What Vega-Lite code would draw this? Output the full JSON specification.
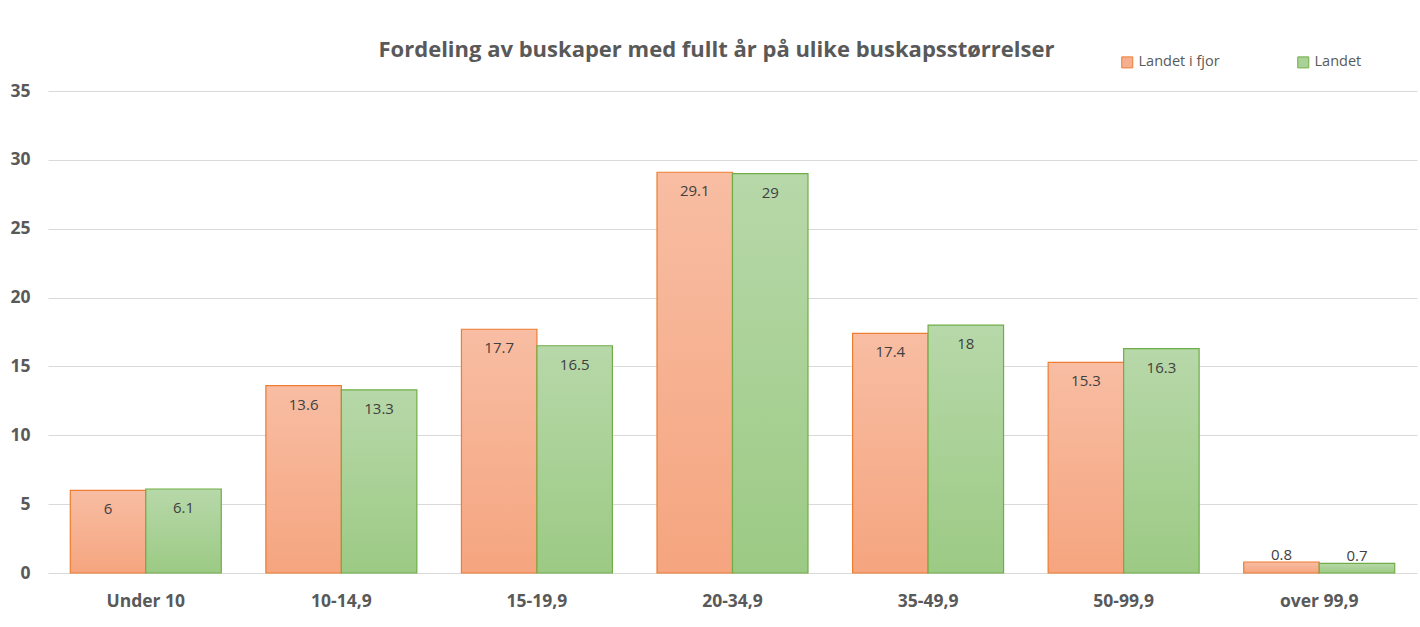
{
  "$schema": "https://vega.github.io/schema/vega-lite/v6.json",
  "width": 1369,
  "height": 482,
  "autosize": {"type": "none"},
  "padding": {"left": 48, "top": 91, "right": 3, "bottom": 54},
  "background": "white",
  "title": {
    "text": "Fordeling av buskaper med fullt år på ulike buskapsstørrelser",
    "font": "Open Sans",
    "fontSize": 22,
    "fontWeight": "bold",
    "color": "#595959",
    "anchor": "middle",
    "dx": -16,
    "offset": -7
  },
  "config": {
    "view": {"stroke": null},
    "font": "Open Sans"
  },
  "data": {
    "values": [
      {"cat": "Under 10", "series": "Landet i fjor", "value": 6},
      {"cat": "Under 10", "series": "Landet", "value": 6.1},
      {"cat": "10-14,9", "series": "Landet i fjor", "value": 13.6},
      {"cat": "10-14,9", "series": "Landet", "value": 13.3},
      {"cat": "15-19,9", "series": "Landet i fjor", "value": 17.7},
      {"cat": "15-19,9", "series": "Landet", "value": 16.5},
      {"cat": "20-34,9", "series": "Landet i fjor", "value": 29.1},
      {"cat": "20-34,9", "series": "Landet", "value": 29},
      {"cat": "35-49,9", "series": "Landet i fjor", "value": 17.4},
      {"cat": "35-49,9", "series": "Landet", "value": 18},
      {"cat": "50-99,9", "series": "Landet i fjor", "value": 15.3},
      {"cat": "50-99,9", "series": "Landet", "value": 16.3},
      {"cat": "over 99,9", "series": "Landet i fjor", "value": 0.8},
      {"cat": "over 99,9", "series": "Landet", "value": 0.7}
    ]
  },
  "encoding": {
    "x": {
      "field": "cat",
      "type": "nominal",
      "sort": null,
      "scale": {"paddingInner": 0.228, "paddingOuter": 0.114},
      "axis": {
        "title": null,
        "labelAngle": 0,
        "labelFont": "Open Sans",
        "labelFontSize": 17.5,
        "labelFontWeight": "bold",
        "labelColor": "#595959",
        "labelPadding": 19,
        "ticks": false,
        "domain": false
      }
    },
    "xOffset": {
      "field": "series",
      "type": "nominal",
      "sort": ["Landet i fjor", "Landet"],
      "scale": {"domain": ["Landet i fjor", "Landet"], "paddingInner": 0, "paddingOuter": 0}
    },
    "y": {
      "field": "value",
      "type": "quantitative",
      "scale": {"domain": [0, 35]},
      "axis": {
        "title": null,
        "values": [0, 5, 10, 15, 20, 25, 30, 35],
        "labelFont": "Open Sans",
        "labelFontSize": 17.5,
        "labelFontWeight": "bold",
        "labelColor": "#595959",
        "labelPadding": 18,
        "ticks": false,
        "domain": false,
        "gridColor": "#D9D9D9",
        "gridWidth": 1
      }
    }
  },
  "layer": [
    {
      "mark": {"type": "bar", "opacity": 0},
      "encoding": {
        "color": {
          "field": "series",
          "type": "nominal",
          "scale": {"domain": ["Landet i fjor", "Landet"], "range": ["#F6B091", "#AAD197"]},
          "legend": {
            "title": null,
            "orient": "none",
            "legendX": 1072,
            "legendY": -36,
            "direction": "horizontal",
            "columnPadding": 75,
            "symbolType": "square",
            "symbolSize": 121,
            "symbolStrokeWidth": 1,
            "labelFont": "Open Sans",
            "labelFontSize": 14.5,
            "labelColor": "#595959",
            "labelOffset": 4,
            "encode": {"symbols": {"update": {"opacity": {"value": 1}, "fillOpacity": {"value": 1}, "strokeOpacity": {"value": 1}}}}
          }
        },
        "stroke": {
          "field": "series",
          "type": "nominal",
          "scale": {"domain": ["Landet i fjor", "Landet"], "range": ["#ED7D31", "#70AD47"]}
        }
      }
    },
    {
      "transform": [{"filter": "datum.series === 'Landet i fjor'"}],
      "mark": {
        "type": "bar",
        "strokeWidth": 1.2,
        "stroke": "#ED7D31",
        "fill": {"gradient": "linear", "x1": 0, "y1": 0, "x2": 0, "y2": 1, "stops": [{"offset": 0, "color": "#F8BDA3"}, {"offset": 1, "color": "#F5A57F"}]}
      }
    },
    {
      "transform": [{"filter": "datum.series === 'Landet'"}],
      "mark": {
        "type": "bar",
        "strokeWidth": 1.2,
        "stroke": "#70AD47",
        "fill": {"gradient": "linear", "x1": 0, "y1": 0, "x2": 0, "y2": 1, "stops": [{"offset": 0, "color": "#B7D8A9"}, {"offset": 1, "color": "#9CCA84"}]}
      }
    },
    {
      "transform": [{"filter": "datum.value >= 2"}],
      "mark": {"type": "text", "baseline": "top", "dy": 12, "fontSize": 15, "color": "#404040", "font": "Open Sans"},
      "encoding": {"text": {"field": "value", "type": "quantitative"}}
    },
    {
      "transform": [{"filter": "datum.value < 2"}],
      "mark": {"type": "text", "baseline": "bottom", "dy": 1, "fontSize": 15, "color": "#404040", "font": "Open Sans"},
      "encoding": {"text": {"field": "value", "type": "quantitative"}}
    }
  ]
}
